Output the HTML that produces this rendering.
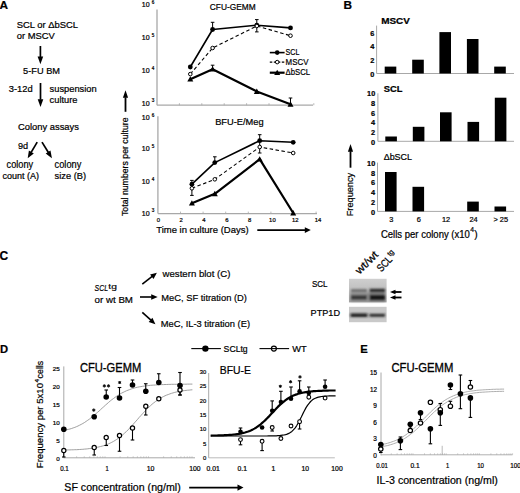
<!DOCTYPE html>
<html><head><meta charset="utf-8"><style>
html,body{margin:0;padding:0;background:#fff;}
svg{display:block;font-family:"Liberation Sans", sans-serif;}
text{stroke:#000;stroke-width:0.22px;}
</style></head><body>
<svg width="520" height="493" viewBox="0 0 520 493" font-family='"Liberation Sans", sans-serif' fill="#000">
<rect width="520" height="493" fill="#fff"/>
<text x="-0.4" y="8.5" font-size="11.8" font-weight="bold">A</text>
<text x="16.7" y="27.5" font-size="9.5" textLength="61.3" lengthAdjust="spacingAndGlyphs">SCL or ΔbSCL</text>
<text x="16.7" y="38.7" font-size="9.5" textLength="38.1" lengthAdjust="spacingAndGlyphs">or MSCV</text>
<line x1="40.4" y1="46" x2="40.4" y2="57.0" stroke="#000" stroke-width="1.7"/>
<polygon points="40.4,64.3 37.6,56.5 43.2,56.5" fill="#000"/>
<text x="23.1" y="74.2" font-size="9.5" textLength="36.9" lengthAdjust="spacingAndGlyphs">5-FU BM</text>
<text x="8.8" y="91.5" font-size="9.5" textLength="23.9" lengthAdjust="spacingAndGlyphs">3-12d</text>
<line x1="40.5" y1="83" x2="40.5" y2="99.7" stroke="#000" stroke-width="1.7"/>
<polygon points="40.5,107.0 37.7,99.2 43.3,99.2" fill="#000"/>
<text x="49.6" y="91.8" font-size="9.5" textLength="47.1" lengthAdjust="spacingAndGlyphs">suspension</text>
<text x="49.6" y="103.2" font-size="9.5" textLength="27.9" lengthAdjust="spacingAndGlyphs">culture</text>
<text x="18" y="129.5" font-size="9.5" textLength="60.9" lengthAdjust="spacingAndGlyphs">Colony assays</text>
<text x="18" y="148.8" font-size="9.5" textLength="10.2" lengthAdjust="spacingAndGlyphs">9d</text>
<line x1="37.2" y1="142.1" x2="31.104863232227142" y2="152.42965283801504" stroke="#000" stroke-width="1.7"/>
<polygon points="27.7,158.2 28.9,150.6 33.8,153.4" fill="#000"/>
<line x1="42" y1="142.1" x2="48.3905253135428" y2="152.4926724795999" stroke="#000" stroke-width="1.7"/>
<polygon points="51.9,158.2 45.7,153.5 50.5,150.6" fill="#000"/>
<text x="6.6" y="168.1" font-size="10.3" textLength="26.6" lengthAdjust="spacingAndGlyphs">colony</text>
<text x="2.4" y="178.5" font-size="9" textLength="36.5" lengthAdjust="spacingAndGlyphs">count (A)</text>
<text x="54.6" y="168.1" font-size="10.3" textLength="26.7" lengthAdjust="spacingAndGlyphs">colony</text>
<text x="54.6" y="178.5" font-size="9" textLength="31.4" lengthAdjust="spacingAndGlyphs">size (B)</text>
<text transform="translate(128.3,216) rotate(-90)" font-size="9" textLength="98.6" lengthAdjust="spacingAndGlyphs">Total numbers per culture</text>
<line x1="125.5" y1="111.8" x2="125.5" y2="97.3" stroke="#000" stroke-width="1.8"/>
<polygon points="125.5,90.3 128.1,97.8 122.9,97.8" fill="#000"/>
<line x1="157" y1="9.6" x2="157" y2="105.2" stroke="#a8a8a8" stroke-width="1.3"/>
<line x1="157" y1="105.2" x2="313" y2="105.2" stroke="#a8a8a8" stroke-width="1.3"/>
<line x1="179.4" y1="105.2" x2="179.4" y2="103.2" stroke="#a8a8a8" stroke-width="0.8"/>
<line x1="201.8" y1="105.2" x2="201.8" y2="103.2" stroke="#a8a8a8" stroke-width="0.8"/>
<line x1="224.2" y1="105.2" x2="224.2" y2="103.2" stroke="#a8a8a8" stroke-width="0.8"/>
<line x1="246.6" y1="105.2" x2="246.6" y2="103.2" stroke="#a8a8a8" stroke-width="0.8"/>
<line x1="269.0" y1="105.2" x2="269.0" y2="103.2" stroke="#a8a8a8" stroke-width="0.8"/>
<line x1="291.4" y1="105.2" x2="291.4" y2="103.2" stroke="#a8a8a8" stroke-width="0.8"/>
<line x1="313.79999999999995" y1="105.2" x2="313.79999999999995" y2="103.2" stroke="#a8a8a8" stroke-width="0.8"/>
<text x="141.8" y="7.2" font-size="6.6" textLength="7.8" lengthAdjust="spacingAndGlyphs">10</text>
<text x="151.70000000000002" y="4.0" font-size="4.6">6</text>
<text x="141.8" y="40.3" font-size="6.6" textLength="7.8" lengthAdjust="spacingAndGlyphs">10</text>
<text x="151.70000000000002" y="37.1" font-size="4.6">5</text>
<text x="141.8" y="73.3" font-size="6.6" textLength="7.8" lengthAdjust="spacingAndGlyphs">10</text>
<text x="151.70000000000002" y="70.1" font-size="4.6">4</text>
<text x="141.8" y="105.6" font-size="6.6" textLength="7.8" lengthAdjust="spacingAndGlyphs">10</text>
<text x="151.70000000000002" y="102.39999999999999" font-size="4.6">3</text>
<text x="209.8" y="10.3" font-size="9.1" textLength="45.8" lengthAdjust="spacingAndGlyphs">CFU-GEMM</text>
<line x1="212.6" y1="29.5" x2="212.6" y2="22.3" stroke="#000" stroke-width="1"/>
<line x1="210.79999999999998" y1="29.5" x2="214.4" y2="29.5" stroke="#000" stroke-width="1"/>
<line x1="210.79999999999998" y1="22.3" x2="214.4" y2="22.3" stroke="#000" stroke-width="1"/>
<line x1="256.8" y1="19.6" x2="256.8" y2="31.9" stroke="#000" stroke-width="1"/>
<line x1="255.0" y1="19.6" x2="258.6" y2="19.6" stroke="#000" stroke-width="1"/>
<line x1="255.0" y1="31.9" x2="258.6" y2="31.9" stroke="#000" stroke-width="1"/>
<line x1="290.5" y1="104.3" x2="290.5" y2="98" stroke="#000" stroke-width="1"/>
<line x1="288.7" y1="98" x2="292.3" y2="98" stroke="#000" stroke-width="1"/>
<line x1="212.6" y1="69.2" x2="212.6" y2="65.2" stroke="#000" stroke-width="1"/>
<line x1="210.79999999999998" y1="65.2" x2="214.4" y2="65.2" stroke="#000" stroke-width="1"/>
<polyline points="190.3,79.2 212.6,69.2 256.8,91.5 290.5,104.3" fill="none" stroke="#000" stroke-width="2.2" stroke-linejoin="round"/>
<polyline points="190.3,74.1 212.6,48.0 256.8,26.0 290.5,35.7" fill="none" stroke="#000" stroke-width="1.1" stroke-dasharray="3.5,2.5" stroke-linejoin="round"/>
<polyline points="190.3,67.0 212.6,29.5 256.8,25.2 290.5,27.9" fill="none" stroke="#000" stroke-width="1.6" stroke-linejoin="round"/>
<polygon points="190.3,76.2 187.3,81.6 193.3,81.6" fill="#000"/>
<polygon points="212.6,66.2 209.6,71.6 215.6,71.6" fill="#000"/>
<polygon points="256.8,88.5 253.8,93.9 259.8,93.9" fill="#000"/>
<polygon points="290.5,101.3 287.5,106.7 293.5,106.7" fill="#000"/>
<circle cx="190.3" cy="67.0" r="2.4" fill="#000" stroke="#000" stroke-width="0"/>
<circle cx="212.6" cy="29.5" r="2.4" fill="#000" stroke="#000" stroke-width="0"/>
<circle cx="256.8" cy="25.2" r="2.4" fill="#000" stroke="#000" stroke-width="0"/>
<circle cx="290.5" cy="27.9" r="2.4" fill="#000" stroke="#000" stroke-width="0"/>
<circle cx="190.3" cy="74.1" r="1.8" fill="#fff" stroke="#000" stroke-width="1"/>
<circle cx="212.6" cy="48.0" r="1.8" fill="#fff" stroke="#000" stroke-width="1"/>
<circle cx="256.8" cy="26.0" r="1.8" fill="#fff" stroke="#000" stroke-width="1"/>
<circle cx="290.5" cy="35.7" r="1.8" fill="#fff" stroke="#000" stroke-width="1"/>
<polyline points="269.8,52.6 284.6,52.6" fill="none" stroke="#000" stroke-width="1.6" stroke-linejoin="round"/>
<circle cx="277.2" cy="52.6" r="2.3" fill="#000" stroke="#000" stroke-width="0"/>
<text x="285.6" y="55.2" font-size="9.2" textLength="13.8" lengthAdjust="spacingAndGlyphs">SCL</text>
<polyline points="269.8,62.1 284.6,62.1" fill="none" stroke="#000" stroke-width="1.1" stroke-dasharray="2.5,1.5" stroke-linejoin="round"/>
<circle cx="277.2" cy="62.1" r="1.8" fill="#fff" stroke="#000" stroke-width="1"/>
<text x="285.6" y="64.9" font-size="9.2" textLength="22.8" lengthAdjust="spacingAndGlyphs">MSCV</text>
<polyline points="269.8,72.7 284.6,72.7" fill="none" stroke="#000" stroke-width="2.2" stroke-linejoin="round"/>
<polygon points="277.2,69.7 274.2,75.1 280.2,75.1" fill="#000"/>
<text x="285.6" y="74.7" font-size="9.2" textLength="24.4" lengthAdjust="spacingAndGlyphs">ΔbSCL</text>
<line x1="157.9" y1="116.3" x2="157.9" y2="213.6" stroke="#a8a8a8" stroke-width="1.3"/>
<line x1="157.9" y1="213.6" x2="317" y2="213.6" stroke="#a8a8a8" stroke-width="1.3"/>
<line x1="180.5" y1="213.6" x2="180.5" y2="211.6" stroke="#a8a8a8" stroke-width="0.8"/>
<line x1="203.10000000000002" y1="213.6" x2="203.10000000000002" y2="211.6" stroke="#a8a8a8" stroke-width="0.8"/>
<line x1="225.70000000000002" y1="213.6" x2="225.70000000000002" y2="211.6" stroke="#a8a8a8" stroke-width="0.8"/>
<line x1="248.3" y1="213.6" x2="248.3" y2="211.6" stroke="#a8a8a8" stroke-width="0.8"/>
<line x1="270.9" y1="213.6" x2="270.9" y2="211.6" stroke="#a8a8a8" stroke-width="0.8"/>
<line x1="293.5" y1="213.6" x2="293.5" y2="211.6" stroke="#a8a8a8" stroke-width="0.8"/>
<line x1="316.1" y1="213.6" x2="316.1" y2="211.6" stroke="#a8a8a8" stroke-width="0.8"/>
<text x="141.8" y="119.8" font-size="6.6" textLength="7.8" lengthAdjust="spacingAndGlyphs">10</text>
<text x="151.70000000000002" y="116.6" font-size="4.6">6</text>
<text x="141.8" y="150.8" font-size="6.6" textLength="7.8" lengthAdjust="spacingAndGlyphs">10</text>
<text x="151.70000000000002" y="147.6" font-size="4.6">5</text>
<text x="141.8" y="183.9" font-size="6.6" textLength="7.8" lengthAdjust="spacingAndGlyphs">10</text>
<text x="151.70000000000002" y="180.7" font-size="4.6">4</text>
<text x="141.8" y="215.60000000000002" font-size="6.6" textLength="7.8" lengthAdjust="spacingAndGlyphs">10</text>
<text x="151.70000000000002" y="212.4" font-size="4.6">3</text>
<text x="158.4" y="221.8" font-size="5.9" text-anchor="middle">0</text>
<text x="181.20000000000002" y="221.8" font-size="5.9" text-anchor="middle">2</text>
<text x="204.0" y="221.8" font-size="5.9" text-anchor="middle">4</text>
<text x="226.8" y="221.8" font-size="5.9" text-anchor="middle">6</text>
<text x="249.60000000000002" y="221.8" font-size="5.9" text-anchor="middle">8</text>
<text x="272.4" y="221.8" font-size="5.9" text-anchor="middle">10</text>
<text x="295.20000000000005" y="221.8" font-size="5.9" text-anchor="middle">12</text>
<text x="318.0" y="221.8" font-size="5.9" text-anchor="middle">14</text>
<text x="215.2" y="124.5" font-size="9.3" textLength="48.4" lengthAdjust="spacingAndGlyphs">BFU-E/Meg</text>
<line x1="191.9" y1="180.4" x2="191.9" y2="195.4" stroke="#000" stroke-width="1"/>
<line x1="190.1" y1="180.4" x2="193.70000000000002" y2="180.4" stroke="#000" stroke-width="1"/>
<line x1="190.1" y1="195.4" x2="193.70000000000002" y2="195.4" stroke="#000" stroke-width="1"/>
<line x1="214.8" y1="162.6" x2="214.8" y2="156.8" stroke="#000" stroke-width="1"/>
<line x1="213.0" y1="156.8" x2="216.60000000000002" y2="156.8" stroke="#000" stroke-width="1"/>
<line x1="259.7" y1="134.7" x2="259.7" y2="153" stroke="#000" stroke-width="1"/>
<line x1="257.9" y1="134.7" x2="261.5" y2="134.7" stroke="#000" stroke-width="1"/>
<line x1="257.9" y1="153" x2="261.5" y2="153" stroke="#000" stroke-width="1"/>
<polyline points="191.9,203.2 214.8,193.8 259.7,159.2 293.2,213.0" fill="none" stroke="#000" stroke-width="2.2" stroke-linejoin="round"/>
<polyline points="191.9,188.3 214.8,179.3 259.7,147.0 293.2,153.0" fill="none" stroke="#000" stroke-width="1.1" stroke-dasharray="3.5,2.5" stroke-linejoin="round"/>
<polyline points="191.9,184.2 214.8,162.6 259.7,140.7 293.2,142.3" fill="none" stroke="#000" stroke-width="1.6" stroke-linejoin="round"/>
<polygon points="191.9,200.2 188.9,205.6 194.9,205.6" fill="#000"/>
<polygon points="214.8,190.8 211.8,196.2 217.8,196.2" fill="#000"/>
<polygon points="259.7,156.2 256.7,161.6 262.7,161.6" fill="#000"/>
<polygon points="293.2,210.0 290.2,215.4 296.2,215.4" fill="#000"/>
<circle cx="191.9" cy="188.3" r="1.8" fill="#fff" stroke="#000" stroke-width="1"/>
<circle cx="214.8" cy="179.3" r="1.8" fill="#fff" stroke="#000" stroke-width="1"/>
<circle cx="259.7" cy="147.0" r="1.8" fill="#fff" stroke="#000" stroke-width="1"/>
<circle cx="293.2" cy="153.0" r="1.8" fill="#fff" stroke="#000" stroke-width="1"/>
<circle cx="191.9" cy="184.2" r="2.4" fill="#000" stroke="#000" stroke-width="0"/>
<circle cx="214.8" cy="162.6" r="2.4" fill="#000" stroke="#000" stroke-width="0"/>
<circle cx="259.7" cy="140.7" r="2.4" fill="#000" stroke="#000" stroke-width="0"/>
<circle cx="293.2" cy="142.3" r="2.4" fill="#000" stroke="#000" stroke-width="0"/>
<text x="156.2" y="233.3" font-size="9.9" textLength="92.4" lengthAdjust="spacingAndGlyphs">Time in culture (Days)</text>
<line x1="257.3" y1="230.1" x2="305.3" y2="230.1" stroke="#000" stroke-width="1.8"/>
<polygon points="310.8,230.1 304.8,233.0 304.8,227.2" fill="#000"/>
<text x="343.6" y="8.7" font-size="11.8" font-weight="bold">B</text>
<line x1="376.6" y1="25.6" x2="376.6" y2="73.5" stroke="#a8a8a8" stroke-width="1"/>
<line x1="376.6" y1="73.5" x2="514" y2="73.5" stroke="#a8a8a8" stroke-width="1"/>
<text x="374.4" y="77.0" font-size="7.2" font-weight="bold" text-anchor="end" textLength="4.1" lengthAdjust="spacingAndGlyphs">0</text>
<text x="374.4" y="63.2" font-size="7.2" font-weight="bold" text-anchor="end" textLength="4.1" lengthAdjust="spacingAndGlyphs">2</text>
<text x="374.4" y="49.4" font-size="7.2" font-weight="bold" text-anchor="end" textLength="4.1" lengthAdjust="spacingAndGlyphs">4</text>
<text x="374.4" y="35.599999999999994" font-size="7.2" font-weight="bold" text-anchor="end" textLength="4.1" lengthAdjust="spacingAndGlyphs">6</text>
<rect x="384.7" y="66.6" width="11.6" height="6.9" fill="#000"/>
<rect x="412.2" y="59.7" width="11.6" height="13.8" fill="#000"/>
<rect x="439.4" y="32.1" width="11.6" height="41.4" fill="#000"/>
<rect x="466.9" y="39.0" width="11.6" height="34.5" fill="#000"/>
<rect x="494.2" y="66.6" width="11.6" height="6.9" fill="#000"/>
<text x="381.2" y="24.1" font-size="9.6" font-weight="bold" textLength="28.7" lengthAdjust="spacingAndGlyphs">MSCV</text>
<line x1="377.9" y1="93.3" x2="377.9" y2="141.3" stroke="#a8a8a8" stroke-width="1"/>
<line x1="377.9" y1="141.3" x2="514" y2="141.3" stroke="#a8a8a8" stroke-width="1"/>
<text x="375.2" y="144.8" font-size="7.2" font-weight="bold" text-anchor="end" textLength="4.1" lengthAdjust="spacingAndGlyphs">0</text>
<text x="375.2" y="135.12" font-size="7.2" font-weight="bold" text-anchor="end" textLength="4.1" lengthAdjust="spacingAndGlyphs">2</text>
<text x="375.2" y="125.44000000000001" font-size="7.2" font-weight="bold" text-anchor="end" textLength="4.1" lengthAdjust="spacingAndGlyphs">4</text>
<text x="375.2" y="115.76000000000002" font-size="7.2" font-weight="bold" text-anchor="end" textLength="4.1" lengthAdjust="spacingAndGlyphs">6</text>
<text x="375.2" y="106.08000000000001" font-size="7.2" font-weight="bold" text-anchor="end" textLength="4.1" lengthAdjust="spacingAndGlyphs">8</text>
<text x="375.2" y="96.4" font-size="7.2" font-weight="bold" text-anchor="end" textLength="8.1" lengthAdjust="spacingAndGlyphs">10</text>
<rect x="385.3" y="136.5" width="11.6" height="4.8" fill="#000"/>
<rect x="412.8" y="126.8" width="11.6" height="14.5" fill="#000"/>
<rect x="440.0" y="112.3" width="11.6" height="29.0" fill="#000"/>
<rect x="467.5" y="121.9" width="11.6" height="19.4" fill="#000"/>
<rect x="494.8" y="97.7" width="11.6" height="43.6" fill="#000"/>
<text x="383.8" y="91.9" font-size="9.6" font-weight="bold" textLength="18.7" lengthAdjust="spacingAndGlyphs">SCL</text>
<line x1="377.5" y1="162.6" x2="377.5" y2="211.4" stroke="#a8a8a8" stroke-width="1"/>
<line x1="377.5" y1="211.4" x2="514" y2="211.4" stroke="#a8a8a8" stroke-width="1"/>
<text x="375.2" y="214.9" font-size="7.2" font-weight="bold" text-anchor="end" textLength="4.1" lengthAdjust="spacingAndGlyphs">0</text>
<text x="375.2" y="205.06" font-size="7.2" font-weight="bold" text-anchor="end" textLength="4.1" lengthAdjust="spacingAndGlyphs">2</text>
<text x="375.2" y="195.22" font-size="7.2" font-weight="bold" text-anchor="end" textLength="4.1" lengthAdjust="spacingAndGlyphs">4</text>
<text x="375.2" y="185.38" font-size="7.2" font-weight="bold" text-anchor="end" textLength="4.1" lengthAdjust="spacingAndGlyphs">6</text>
<text x="375.2" y="175.54000000000002" font-size="7.2" font-weight="bold" text-anchor="end" textLength="4.1" lengthAdjust="spacingAndGlyphs">8</text>
<text x="375.2" y="165.7" font-size="7.2" font-weight="bold" text-anchor="end" textLength="8.1" lengthAdjust="spacingAndGlyphs">10</text>
<rect x="385.0" y="172.0" width="11.6" height="39.4" fill="#000"/>
<rect x="412.5" y="186.8" width="11.6" height="24.6" fill="#000"/>
<rect x="467.2" y="201.6" width="11.6" height="9.8" fill="#000"/>
<rect x="494.5" y="206.5" width="11.6" height="4.9" fill="#000"/>
<text x="383.7" y="159.9" font-size="9.3" textLength="28.3" lengthAdjust="spacingAndGlyphs">ΔbSCL</text>
<text x="391.3" y="222.4" font-size="7.4" text-anchor="middle">3</text>
<text x="418.8" y="222.4" font-size="7.4" text-anchor="middle">6</text>
<text x="446.0" y="222.4" font-size="7.4" text-anchor="middle">12</text>
<text x="473.5" y="222.4" font-size="7.4" text-anchor="middle">24</text>
<text x="500.8" y="222.4" font-size="7.4" text-anchor="middle">&gt; 25</text>
<text x="380.9" y="237.5" font-size="10.2" textLength="89" lengthAdjust="spacingAndGlyphs">Cells per colony (x10</text>
<text x="470.3" y="231.8" font-size="6.8">4</text>
<text x="474.3" y="237.5" font-size="10.2">)</text>
<text transform="translate(353.2,216.3) rotate(-90)" font-size="9.4" textLength="43.5" lengthAdjust="spacingAndGlyphs">Frequency</text>
<line x1="350.5" y1="167.7" x2="350.5" y2="151.20000000000002" stroke="#000" stroke-width="1.8"/>
<polygon points="350.5,143.9 353.1,151.7 347.9,151.7" fill="#000"/>
<text x="-0.6" y="259.5" font-size="12" font-weight="bold">C</text>
<text x="94.6" y="290.5" font-size="9.6" font-style="italic" textLength="13.4" lengthAdjust="spacingAndGlyphs">SCL</text>
<text x="108.3" y="289.2" font-size="7.8" textLength="8.6" lengthAdjust="spacingAndGlyphs" style="stroke-width:0.15px">tg</text>
<text x="94.6" y="302.7" font-size="9.6" textLength="38.4" lengthAdjust="spacingAndGlyphs" style="stroke-width:0.2px">or wt BM</text>
<line x1="142.3" y1="284.2" x2="152.1865744374946" y2="276.4126297238912" stroke="#000" stroke-width="1.6"/>
<polygon points="156.9,272.7 153.5,278.9 150.1,274.5" fill="#000"/>
<line x1="140" y1="297" x2="151.7" y2="297.0" stroke="#000" stroke-width="1.6"/>
<polygon points="157.7,297.0 151.2,299.8 151.2,294.2" fill="#000"/>
<line x1="142.3" y1="312.4" x2="150.9419276723139" y2="320.1843317964354" stroke="#000" stroke-width="1.6"/>
<polygon points="155.4,324.2 148.7,321.9 152.4,317.8" fill="#000"/>
<text x="162.6" y="277.3" font-size="9.9" textLength="67.8" lengthAdjust="spacingAndGlyphs" style="stroke-width:0.2px">western blot (C)</text>
<text x="161.3" y="300.5" font-size="9.9" textLength="85.6" lengthAdjust="spacingAndGlyphs" style="stroke-width:0.2px">MeC, SF titration (D)</text>
<text x="160.7" y="326.5" font-size="9.9" textLength="89.4" lengthAdjust="spacingAndGlyphs" style="stroke-width:0.2px">MeC, IL-3 titration (E)</text>
<text x="311.9" y="287" font-size="9.5" textLength="15.6" lengthAdjust="spacingAndGlyphs">SCL</text>
<text x="310.6" y="316.1" font-size="9.5" textLength="29.4" lengthAdjust="spacingAndGlyphs">PTP1D</text>
<text transform="translate(359.5,274.8) rotate(-45)" font-size="10.8" textLength="27.5" lengthAdjust="spacingAndGlyphs">wt/wt</text>
<text transform="translate(381.2,272.6) rotate(-47)" font-size="10.8" textLength="17" lengthAdjust="spacingAndGlyphs">SCL</text>
<text transform="translate(381.2,272.6) rotate(-47) translate(17.6,-4.2)" font-size="7.4" textLength="6.2" lengthAdjust="spacingAndGlyphs">tg</text>
<defs>
<linearGradient id="bg1" x1="0" x2="0" y1="0" y2="1"><stop offset="0" stop-color="#cfcfcf"/><stop offset="0.45" stop-color="#c0c0c0"/><stop offset="1" stop-color="#a0a0a0"/></linearGradient>
<filter id="bl" x="-20%" y="-80%" width="140%" height="260%"><feGaussianBlur stdDeviation="1.0"/></filter>
</defs>
<rect x="349" y="278.8" width="37.6" height="23.6" fill="url(#bg1)"/>
<g filter="url(#bl)">
<rect x="350.5" y="292.5" width="34.5" height="9" fill="#909090"/>
<rect x="351" y="289.2" width="16" height="2.8" fill="#6a6a6a"/>
<rect x="369.5" y="288.8" width="15.5" height="3.6" fill="#2a2a2a"/>
<rect x="351" y="295" width="16" height="4.8" fill="#3a3a3a"/>
<rect x="369.5" y="294.6" width="15.5" height="5.8" fill="#151515"/>
</g>
<rect x="349" y="306.8" width="37.6" height="15.4" fill="#c9c9c9"/>
<g filter="url(#bl)">
<rect x="350.5" y="313.5" width="17" height="3.4" fill="#151515"/>
<rect x="369.5" y="313.8" width="15.5" height="2.9" fill="#222"/>
</g>
<line x1="401.5" y1="292" x2="395.0" y2="292.0" stroke="#000" stroke-width="1.8"/>
<polygon points="390.0,292.0 395.5,289.7 395.5,294.3" fill="#000"/>
<line x1="401.5" y1="297.5" x2="395.0" y2="297.5" stroke="#000" stroke-width="1.8"/>
<polygon points="390.0,297.5 395.5,295.2 395.5,299.8" fill="#000"/>
<text x="0" y="352.6" font-size="11.2" font-weight="bold">D</text>
<text transform="translate(42.7,468.2) rotate(-90)" font-size="9.7" textLength="85.2" lengthAdjust="spacingAndGlyphs">Frequency per 5x10</text>
<text transform="translate(38.9,382.6) rotate(-90)" font-size="6.2">4</text>
<text transform="translate(42.7,378.4) rotate(-90)" font-size="9.7" textLength="17.6" lengthAdjust="spacingAndGlyphs">cells</text>
<line x1="63.8" y1="366.4" x2="63.8" y2="458.2" stroke="#a8a8a8" stroke-width="1"/>
<line x1="63.8" y1="457.8" x2="195" y2="457.8" stroke="#a8a8a8" stroke-width="1"/>
<text x="59.8" y="461.2" font-size="6" text-anchor="end" textLength="3.5" lengthAdjust="spacingAndGlyphs">0</text>
<text x="59.8" y="443.09999999999997" font-size="6" text-anchor="end" textLength="3.5" lengthAdjust="spacingAndGlyphs">5</text>
<text x="59.8" y="425.0" font-size="6" text-anchor="end" textLength="7" lengthAdjust="spacingAndGlyphs">10</text>
<text x="59.8" y="406.9" font-size="6" text-anchor="end" textLength="7" lengthAdjust="spacingAndGlyphs">15</text>
<text x="59.8" y="388.8" font-size="6" text-anchor="end" textLength="7" lengthAdjust="spacingAndGlyphs">20</text>
<text x="59.8" y="370.7" font-size="6" text-anchor="end" textLength="7" lengthAdjust="spacingAndGlyphs">25</text>
<text x="64.5" y="471.3" font-size="6.9" text-anchor="middle" textLength="8.6" lengthAdjust="spacingAndGlyphs">0.1</text>
<text x="107" y="471.3" font-size="6.9" text-anchor="middle" textLength="3.2" lengthAdjust="spacingAndGlyphs">1</text>
<text x="150.6" y="471.3" font-size="6.9" text-anchor="middle" textLength="7.8" lengthAdjust="spacingAndGlyphs">10</text>
<text x="194.9" y="471.3" font-size="6.9" text-anchor="middle" textLength="11.4" lengthAdjust="spacingAndGlyphs">100</text>
<text x="79.9" y="372.3" font-size="11.9" textLength="61.4" lengthAdjust="spacingAndGlyphs" style="stroke-width:0.3px">CFU-GEMM</text>
<polyline points="63.5,430.5 65.1,430.2 66.7,429.8 68.3,429.4 69.9,429.0 71.6,428.5 73.2,427.9 74.8,427.4 76.4,426.7 78.0,426.0 79.6,425.2 81.2,424.4 82.8,423.5 84.5,422.5 86.1,421.4 87.7,420.3 89.3,419.2 90.9,417.9 92.5,416.6 94.1,415.3 95.7,413.9 97.3,412.5 99.0,411.1 100.6,409.6 102.2,408.1 103.8,406.7 105.4,405.2 107.0,403.8 108.6,402.4 110.2,401.0 111.8,399.7 113.5,398.5 115.1,397.3 116.7,396.2 118.3,395.1 119.9,394.1 121.5,393.2 123.1,392.4 124.7,391.6 126.4,390.8 128.0,390.2 129.6,389.6 131.2,389.0 132.8,388.5 134.4,388.0 136.0,387.6 137.6,387.2 139.2,386.9 140.9,386.6 142.5,386.3 144.1,386.1 145.7,385.9 147.3,385.7 148.9,385.5 150.5,385.3 152.1,385.2 153.7,385.1 155.4,385.0 157.0,384.9 158.6,384.8 160.2,384.7 161.8,384.6 163.4,384.6 165.0,384.5 166.6,384.5 168.3,384.4 169.9,384.4 171.5,384.3 173.1,384.3 174.7,384.3 176.3,384.3 177.9,384.2 179.5,384.2 181.1,384.2 182.8,384.2 184.4,384.2 186.0,384.2 187.6,384.1 189.2,384.1 190.8,384.1 192.4,384.1" fill="none" stroke="#888" stroke-width="0.8" stroke-linejoin="round"/>
<polyline points="63.5,450.1 65.1,450.0 66.7,450.0 68.3,449.9 69.9,449.9 71.6,449.8 73.2,449.8 74.8,449.7 76.4,449.7 78.0,449.6 79.6,449.5 81.2,449.4 82.8,449.3 84.5,449.1 86.1,449.0 87.7,448.8 89.3,448.6 90.9,448.4 92.5,448.2 94.1,447.9 95.7,447.6 97.3,447.3 99.0,446.9 100.6,446.5 102.2,446.1 103.8,445.6 105.4,445.1 107.0,444.5 108.6,443.8 110.2,443.1 111.8,442.3 113.5,441.4 115.1,440.4 116.7,439.4 118.3,438.3 119.9,437.1 121.5,435.8 123.1,434.5 124.7,433.0 126.4,431.5 128.0,429.9 129.6,428.2 131.2,426.5 132.8,424.7 134.4,422.9 136.0,421.1 137.6,419.3 139.2,417.4 140.9,415.6 142.5,413.8 144.1,412.1 145.7,410.4 147.3,408.7 148.9,407.2 150.5,405.7 152.1,404.2 153.7,402.9 155.4,401.6 157.0,400.5 158.6,399.4 160.2,398.4 161.8,397.4 163.4,396.6 165.0,395.8 166.6,395.1 168.3,394.5 169.9,393.9 171.5,393.3 173.1,392.9 174.7,392.4 176.3,392.0 177.9,391.7 179.5,391.4 181.1,391.1 182.8,390.8 184.4,390.6 186.0,390.4 187.6,390.2 189.2,390.1 190.8,389.9 192.4,389.8" fill="none" stroke="#888" stroke-width="0.8" stroke-linejoin="round"/>
<line x1="106.25" y1="397" x2="106.25" y2="390" stroke="#000" stroke-width="1.1"/>
<line x1="104.45" y1="390" x2="108.05" y2="390" stroke="#000" stroke-width="1.1"/>
<line x1="119.5" y1="398" x2="119.5" y2="387.5" stroke="#000" stroke-width="1.1"/>
<line x1="117.7" y1="387.5" x2="121.3" y2="387.5" stroke="#000" stroke-width="1.1"/>
<line x1="132.5" y1="385" x2="132.5" y2="380" stroke="#000" stroke-width="1.1"/>
<line x1="130.7" y1="380" x2="134.3" y2="380" stroke="#000" stroke-width="1.1"/>
<line x1="145.75" y1="391.25" x2="145.75" y2="383.75" stroke="#000" stroke-width="1.1"/>
<line x1="143.95" y1="383.75" x2="147.55" y2="383.75" stroke="#000" stroke-width="1.1"/>
<line x1="158.75" y1="382.5" x2="158.75" y2="373.75" stroke="#000" stroke-width="1.1"/>
<line x1="156.95" y1="373.75" x2="160.55" y2="373.75" stroke="#000" stroke-width="1.1"/>
<line x1="180" y1="385.5" x2="180" y2="372.5" stroke="#000" stroke-width="1.1"/>
<line x1="178.2" y1="372.5" x2="181.8" y2="372.5" stroke="#000" stroke-width="1.1"/>
<line x1="63.75" y1="450.5" x2="63.75" y2="457" stroke="#000" stroke-width="1.1"/>
<line x1="61.95" y1="457" x2="65.55" y2="457" stroke="#000" stroke-width="1.1"/>
<line x1="94.25" y1="447.5" x2="94.25" y2="455" stroke="#000" stroke-width="1.1"/>
<line x1="92.45" y1="455" x2="96.05" y2="455" stroke="#000" stroke-width="1.1"/>
<line x1="106.25" y1="437.5" x2="106.25" y2="445.5" stroke="#000" stroke-width="1.1"/>
<line x1="104.45" y1="445.5" x2="108.05" y2="445.5" stroke="#000" stroke-width="1.1"/>
<line x1="119.5" y1="435.5" x2="119.5" y2="451.25" stroke="#000" stroke-width="1.1"/>
<line x1="117.7" y1="451.25" x2="121.3" y2="451.25" stroke="#000" stroke-width="1.1"/>
<line x1="132.5" y1="428" x2="132.5" y2="440" stroke="#000" stroke-width="1.1"/>
<line x1="130.7" y1="440" x2="134.3" y2="440" stroke="#000" stroke-width="1.1"/>
<line x1="145.75" y1="406.25" x2="145.75" y2="415" stroke="#000" stroke-width="1.1"/>
<line x1="143.95" y1="415" x2="147.55" y2="415" stroke="#000" stroke-width="1.1"/>
<line x1="180" y1="390" x2="180" y2="395" stroke="#000" stroke-width="1.1"/>
<line x1="178.2" y1="395" x2="181.8" y2="395" stroke="#000" stroke-width="1.1"/>
<line x1="180" y1="385.5" x2="180" y2="395" stroke="#000" stroke-width="1.1"/>
<line x1="178.2" y1="395" x2="181.8" y2="395" stroke="#000" stroke-width="1.1"/>
<circle cx="63.8" cy="429.2" r="2.8" fill="#000" stroke="#000" stroke-width="0"/>
<circle cx="94.2" cy="416.8" r="2.8" fill="#000" stroke="#000" stroke-width="0"/>
<circle cx="106.2" cy="397.0" r="2.8" fill="#000" stroke="#000" stroke-width="0"/>
<circle cx="119.5" cy="398.0" r="2.8" fill="#000" stroke="#000" stroke-width="0"/>
<circle cx="132.5" cy="385.0" r="2.8" fill="#000" stroke="#000" stroke-width="0"/>
<circle cx="145.8" cy="391.2" r="2.8" fill="#000" stroke="#000" stroke-width="0"/>
<circle cx="158.8" cy="382.5" r="2.8" fill="#000" stroke="#000" stroke-width="0"/>
<circle cx="180.0" cy="385.5" r="2.8" fill="#000" stroke="#000" stroke-width="0"/>
<circle cx="63.8" cy="450.5" r="2.1" fill="#fff" stroke="#000" stroke-width="1.2"/>
<circle cx="94.2" cy="447.5" r="2.1" fill="#fff" stroke="#000" stroke-width="1.2"/>
<circle cx="106.2" cy="437.5" r="2.1" fill="#fff" stroke="#000" stroke-width="1.2"/>
<circle cx="119.5" cy="435.5" r="2.1" fill="#fff" stroke="#000" stroke-width="1.2"/>
<circle cx="132.5" cy="428.0" r="2.1" fill="#fff" stroke="#000" stroke-width="1.2"/>
<circle cx="145.8" cy="406.2" r="2.1" fill="#fff" stroke="#000" stroke-width="1.2"/>
<circle cx="158.8" cy="398.8" r="2.1" fill="#fff" stroke="#000" stroke-width="1.2"/>
<circle cx="180.0" cy="390.0" r="2.1" fill="#fff" stroke="#000" stroke-width="1.2"/>
<polygon points="93.80,408.60 94.21,409.39 95.10,409.35 94.62,410.10 95.10,410.85 94.21,410.81 93.80,411.60 93.39,410.81 92.50,410.85 92.97,410.10 92.50,409.35 93.39,409.39" fill="#000" stroke="#000" stroke-width="0.6"/>
<polygon points="104.30,384.40 104.71,385.19 105.60,385.15 105.12,385.90 105.60,386.65 104.71,386.61 104.30,387.40 103.89,386.61 103.00,386.65 103.47,385.90 103.00,385.15 103.89,385.19" fill="#000" stroke="#000" stroke-width="0.6"/>
<polygon points="108.50,384.40 108.91,385.19 109.80,385.15 109.33,385.90 109.80,386.65 108.91,386.61 108.50,387.40 108.09,386.61 107.20,386.65 107.67,385.90 107.20,385.15 108.09,385.19" fill="#000" stroke="#000" stroke-width="0.6"/>
<polygon points="119.70,381.00 120.11,381.79 121.00,381.75 120.53,382.50 121.00,383.25 120.11,383.21 119.70,384.00 119.29,383.21 118.40,383.25 118.88,382.50 118.40,381.75 119.29,381.79" fill="#000" stroke="#000" stroke-width="0.6"/>
<line x1="191.3" y1="348.6" x2="220.9" y2="348.6" stroke="#000" stroke-width="1.1"/>
<circle cx="205.4" cy="348.6" r="3.2" fill="#000" stroke="#000" stroke-width="0"/>
<text x="223.6" y="351.8" font-size="9.4" textLength="24.1" lengthAdjust="spacingAndGlyphs">SCLtg</text>
<circle cx="273.9" cy="348.6" r="2.5" fill="#fff" stroke="#000" stroke-width="1.2"/>
<line x1="259.5" y1="348.6" x2="289.1" y2="348.6" stroke="#000" stroke-width="1.1"/>
<text x="292.3" y="351.8" font-size="9.4" textLength="14.4" lengthAdjust="spacingAndGlyphs">WT</text>
<line x1="208.7" y1="373" x2="208.7" y2="457.8" stroke="#a8a8a8" stroke-width="1"/>
<line x1="208.7" y1="457.8" x2="334.8" y2="457.8" stroke="#a8a8a8" stroke-width="0.8"/>
<text x="206.2" y="460.0" font-size="6" text-anchor="end" textLength="3.3" lengthAdjust="spacingAndGlyphs">0</text>
<text x="206.2" y="445.65" font-size="6" text-anchor="end" textLength="3.3" lengthAdjust="spacingAndGlyphs">5</text>
<text x="206.2" y="431.3" font-size="6" text-anchor="end" textLength="6.5" lengthAdjust="spacingAndGlyphs">10</text>
<text x="206.2" y="416.95" font-size="6" text-anchor="end" textLength="6.5" lengthAdjust="spacingAndGlyphs">15</text>
<text x="206.2" y="402.59999999999997" font-size="6" text-anchor="end" textLength="6.5" lengthAdjust="spacingAndGlyphs">20</text>
<text x="206.2" y="388.25" font-size="6" text-anchor="end" textLength="6.5" lengthAdjust="spacingAndGlyphs">25</text>
<text x="206.2" y="373.9" font-size="6" text-anchor="end" textLength="6.5" lengthAdjust="spacingAndGlyphs">30</text>
<text x="213.2" y="471" font-size="6.8" text-anchor="middle">0.01</text>
<text x="242.3" y="471" font-size="6.8" text-anchor="middle">0.1</text>
<text x="273.3" y="471" font-size="6.8" text-anchor="middle">1</text>
<text x="305.3" y="471" font-size="6.8" text-anchor="middle">10</text>
<text x="337" y="471" font-size="6.8" text-anchor="middle">100</text>
<text x="219.8" y="374.4" font-size="10.6" textLength="31.2" lengthAdjust="spacingAndGlyphs">BFU-E</text>
<polyline points="210.7,435.6 212.3,435.5 213.8,435.5 215.4,435.5 216.9,435.5 218.5,435.4 220.1,435.4 221.6,435.3 223.2,435.3 224.8,435.2 226.3,435.1 227.9,435.0 229.4,434.9 231.0,434.8 232.6,434.7 234.1,434.5 235.7,434.3 237.2,434.1 238.8,433.9 240.4,433.6 241.9,433.3 243.5,432.9 245.0,432.5 246.6,432.0 248.2,431.5 249.7,430.9 251.3,430.2 252.9,429.4 254.4,428.6 256.0,427.7 257.5,426.6 259.1,425.5 260.7,424.3 262.2,422.9 263.8,421.5 265.3,420.1 266.9,418.5 268.5,416.9 270.0,415.2 271.6,413.5 273.2,411.9 274.7,410.2 276.3,408.5 277.8,406.9 279.4,405.4 281.0,404.0 282.5,402.6 284.1,401.3 285.6,400.1 287.2,399.0 288.8,398.0 290.3,397.1 291.9,396.3 293.4,395.6 295.0,394.9 296.6,394.4 298.1,393.8 299.7,393.4 301.3,393.0 302.8,392.7 304.4,392.3 305.9,392.1 307.5,391.9 309.1,391.7 310.6,391.5 312.2,391.3 313.7,391.2 315.3,391.1 316.9,391.0 318.4,390.9 320.0,390.8 321.5,390.8 323.1,390.7 324.7,390.7 326.2,390.6 327.8,390.6 329.4,390.5 330.9,390.5 332.5,390.5 334.0,390.5 335.6,390.5" fill="none" stroke="#000" stroke-width="2.2" stroke-linejoin="round"/>
<polyline points="210.7,436.0 212.3,436.0 213.8,436.0 215.4,436.0 216.9,436.0 218.5,436.0 220.1,436.0 221.6,436.0 223.2,436.0 224.8,436.0 226.3,436.0 227.9,436.0 229.4,436.0 231.0,436.0 232.6,436.0 234.1,436.0 235.7,436.0 237.2,436.0 238.8,436.0 240.4,436.0 241.9,436.0 243.5,436.0 245.0,436.0 246.6,436.0 248.2,436.0 249.7,436.0 251.3,436.0 252.9,436.0 254.4,436.0 256.0,436.0 257.5,436.0 259.1,436.0 260.7,436.0 262.2,436.0 263.8,436.0 265.3,436.0 266.9,436.0 268.5,435.9 270.0,435.9 271.6,435.9 273.2,435.9 274.7,435.8 276.3,435.8 277.8,435.7 279.4,435.6 281.0,435.4 282.5,435.2 284.1,435.0 285.6,434.6 287.2,434.1 288.8,433.4 290.3,432.5 291.9,431.4 293.4,429.9 295.0,428.1 296.6,425.8 298.1,423.2 299.7,420.3 301.3,417.1 302.8,413.9 304.4,410.8 305.9,407.9 307.5,405.4 309.1,403.3 310.6,401.5 312.2,400.1 313.7,399.0 315.3,398.2 316.9,397.6 318.4,397.1 320.0,396.8 321.5,396.5 323.1,396.3 324.7,396.2 326.2,396.1 327.8,396.0 329.4,395.9 330.9,395.9 332.5,395.9 334.0,395.9 335.6,395.8" fill="none" stroke="#000" stroke-width="1.2" stroke-linejoin="round"/>
<line x1="240.5" y1="431.8" x2="240.5" y2="428" stroke="#000" stroke-width="1.1"/>
<line x1="238.7" y1="428" x2="242.3" y2="428" stroke="#000" stroke-width="1.1"/>
<line x1="272.2" y1="410.8" x2="272.2" y2="400.9" stroke="#000" stroke-width="1.1"/>
<line x1="270.4" y1="400.9" x2="274.0" y2="400.9" stroke="#000" stroke-width="1.1"/>
<line x1="280.9" y1="402.1" x2="280.9" y2="391.3" stroke="#000" stroke-width="1.1"/>
<line x1="279.09999999999997" y1="391.3" x2="282.7" y2="391.3" stroke="#000" stroke-width="1.1"/>
<line x1="291" y1="398.7" x2="291" y2="387" stroke="#000" stroke-width="1.1"/>
<line x1="289.2" y1="387" x2="292.8" y2="387" stroke="#000" stroke-width="1.1"/>
<line x1="299.6" y1="391.4" x2="299.6" y2="380.8" stroke="#000" stroke-width="1.1"/>
<line x1="297.8" y1="380.8" x2="301.40000000000003" y2="380.8" stroke="#000" stroke-width="1.1"/>
<line x1="308.8" y1="392.9" x2="308.8" y2="387" stroke="#000" stroke-width="1.1"/>
<line x1="307.0" y1="387" x2="310.6" y2="387" stroke="#000" stroke-width="1.1"/>
<line x1="325.1" y1="386.7" x2="325.1" y2="380" stroke="#000" stroke-width="1.1"/>
<line x1="323.3" y1="380" x2="326.90000000000003" y2="380" stroke="#000" stroke-width="1.1"/>
<line x1="240.5" y1="439.6" x2="240.5" y2="444.8" stroke="#000" stroke-width="1.1"/>
<line x1="238.7" y1="444.8" x2="242.3" y2="444.8" stroke="#000" stroke-width="1.1"/>
<line x1="262.1" y1="441.3" x2="262.1" y2="450.6" stroke="#000" stroke-width="1.1"/>
<line x1="260.3" y1="450.6" x2="263.90000000000003" y2="450.6" stroke="#000" stroke-width="1.1"/>
<line x1="272.2" y1="427.5" x2="272.2" y2="431" stroke="#000" stroke-width="1.1"/>
<line x1="270.4" y1="431" x2="274.0" y2="431" stroke="#000" stroke-width="1.1"/>
<line x1="299.6" y1="421.7" x2="299.6" y2="429" stroke="#000" stroke-width="1.1"/>
<line x1="297.8" y1="429" x2="301.40000000000003" y2="429" stroke="#000" stroke-width="1.1"/>
<circle cx="240.5" cy="431.8" r="2.3" fill="#000" stroke="#000" stroke-width="0"/>
<circle cx="262.1" cy="427.5" r="2.3" fill="#000" stroke="#000" stroke-width="0"/>
<circle cx="272.2" cy="410.8" r="2.3" fill="#000" stroke="#000" stroke-width="0"/>
<circle cx="280.9" cy="402.1" r="2.3" fill="#000" stroke="#000" stroke-width="0"/>
<circle cx="291.0" cy="398.7" r="2.3" fill="#000" stroke="#000" stroke-width="0"/>
<circle cx="299.6" cy="391.4" r="2.3" fill="#000" stroke="#000" stroke-width="0"/>
<circle cx="308.8" cy="392.9" r="2.3" fill="#000" stroke="#000" stroke-width="0"/>
<circle cx="325.1" cy="386.7" r="2.3" fill="#000" stroke="#000" stroke-width="0"/>
<circle cx="240.5" cy="439.6" r="1.9" fill="#fff" stroke="#000" stroke-width="1.1"/>
<circle cx="262.1" cy="441.3" r="1.9" fill="#fff" stroke="#000" stroke-width="1.1"/>
<circle cx="272.2" cy="427.5" r="1.9" fill="#fff" stroke="#000" stroke-width="1.1"/>
<circle cx="280.9" cy="438.5" r="1.9" fill="#fff" stroke="#000" stroke-width="1.1"/>
<circle cx="291.0" cy="426.0" r="1.9" fill="#fff" stroke="#000" stroke-width="1.1"/>
<circle cx="299.6" cy="421.7" r="1.9" fill="#fff" stroke="#000" stroke-width="1.1"/>
<circle cx="308.8" cy="397.2" r="1.9" fill="#fff" stroke="#000" stroke-width="1.1"/>
<circle cx="325.1" cy="398.1" r="1.9" fill="#fff" stroke="#000" stroke-width="1.1"/>
<polygon points="280.30,384.80 280.71,385.59 281.60,385.55 281.12,386.30 281.60,387.05 280.71,387.01 280.30,387.80 279.89,387.01 279.00,387.05 279.48,386.30 279.00,385.55 279.89,385.59" fill="#000" stroke="#000" stroke-width="0.6"/>
<polygon points="290.60,380.30 291.01,381.09 291.90,381.05 291.43,381.80 291.90,382.55 291.01,382.51 290.60,383.30 290.19,382.51 289.30,382.55 289.78,381.80 289.30,381.05 290.19,381.09" fill="#000" stroke="#000" stroke-width="0.6"/>
<polygon points="300.00,375.40 300.41,376.19 301.30,376.15 300.82,376.90 301.30,377.65 300.41,377.61 300.00,378.40 299.59,377.61 298.70,377.65 299.18,376.90 298.70,376.15 299.59,376.19" fill="#000" stroke="#000" stroke-width="0.6"/>
<text x="64.3" y="490.7" font-size="11.3" textLength="116.4" lengthAdjust="spacingAndGlyphs">SF concentration (ng/ml)</text>
<line x1="189.2" y1="487.6" x2="238.0" y2="487.6" stroke="#000" stroke-width="1.9"/>
<polygon points="243.5,487.6 237.5,490.8 237.5,484.4" fill="#000"/>
<text x="360.2" y="352.8" font-size="11.3" font-weight="bold">E</text>
<text x="391.4" y="371.6" font-size="11.9" textLength="62" lengthAdjust="spacingAndGlyphs" style="stroke-width:0.3px">CFU-GEMM</text>
<line x1="381" y1="372.5" x2="381" y2="455.4" stroke="#a8a8a8" stroke-width="1"/>
<line x1="381" y1="454.8" x2="512.5" y2="454.8" stroke="#a8a8a8" stroke-width="0.9"/>
<line x1="442.2" y1="445.8" x2="442.2" y2="454.8" stroke="#a8a8a8" stroke-width="0.8"/>
<text x="376.9" y="457.9" font-size="6.8" text-anchor="end" textLength="3.6" lengthAdjust="spacingAndGlyphs">0</text>
<text x="376.9" y="441.4" font-size="6.8" text-anchor="end" textLength="3.6" lengthAdjust="spacingAndGlyphs">3</text>
<text x="376.9" y="424.9" font-size="6.8" text-anchor="end" textLength="3.6" lengthAdjust="spacingAndGlyphs">6</text>
<text x="376.9" y="408.4" font-size="6.8" text-anchor="end" textLength="3.6" lengthAdjust="spacingAndGlyphs">9</text>
<text x="376.9" y="391.9" font-size="6.8" text-anchor="end" textLength="7.0" lengthAdjust="spacingAndGlyphs">12</text>
<text x="376.9" y="375.4" font-size="6.8" text-anchor="end" textLength="7.0" lengthAdjust="spacingAndGlyphs">15</text>
<text x="382.1" y="467.5" font-size="6.9" text-anchor="middle" textLength="11.6" lengthAdjust="spacingAndGlyphs">0.01</text>
<text x="415" y="467.5" font-size="6.9" text-anchor="middle" textLength="9.2" lengthAdjust="spacingAndGlyphs">0.1</text>
<text x="447.5" y="467.5" font-size="6.9" text-anchor="middle" textLength="3.2" lengthAdjust="spacingAndGlyphs">1</text>
<text x="480.6" y="467.5" font-size="6.9" text-anchor="middle" textLength="6.8" lengthAdjust="spacingAndGlyphs">10</text>
<text x="515.5" y="467.5" font-size="6.9" text-anchor="middle" textLength="10.5" lengthAdjust="spacingAndGlyphs">100</text>
<line x1="391.29419585604415" y1="454.8" x2="391.29419585604415" y2="453.3" stroke="#a8a8a8" stroke-width="0.6"/>
<line x1="397.1404256566928" y1="454.8" x2="397.1404256566928" y2="453.3" stroke="#a8a8a8" stroke-width="0.6"/>
<line x1="401.28839171208836" y1="454.8" x2="401.28839171208836" y2="453.3" stroke="#a8a8a8" stroke-width="0.6"/>
<line x1="404.5058041439558" y1="454.8" x2="404.5058041439558" y2="453.3" stroke="#a8a8a8" stroke-width="0.6"/>
<line x1="407.13462151273694" y1="454.8" x2="407.13462151273694" y2="453.3" stroke="#a8a8a8" stroke-width="0.6"/>
<line x1="409.3572549284733" y1="454.8" x2="409.3572549284733" y2="453.3" stroke="#a8a8a8" stroke-width="0.6"/>
<line x1="411.2825875681325" y1="454.8" x2="411.2825875681325" y2="453.3" stroke="#a8a8a8" stroke-width="0.6"/>
<line x1="412.9808513133856" y1="454.8" x2="412.9808513133856" y2="453.3" stroke="#a8a8a8" stroke-width="0.6"/>
<line x1="424.49419585604414" y1="454.8" x2="424.49419585604414" y2="453.3" stroke="#a8a8a8" stroke-width="0.6"/>
<line x1="430.3404256566928" y1="454.8" x2="430.3404256566928" y2="453.3" stroke="#a8a8a8" stroke-width="0.6"/>
<line x1="434.48839171208834" y1="454.8" x2="434.48839171208834" y2="453.3" stroke="#a8a8a8" stroke-width="0.6"/>
<line x1="437.7058041439558" y1="454.8" x2="437.7058041439558" y2="453.3" stroke="#a8a8a8" stroke-width="0.6"/>
<line x1="440.334621512737" y1="454.8" x2="440.334621512737" y2="453.3" stroke="#a8a8a8" stroke-width="0.6"/>
<line x1="442.5572549284733" y1="454.8" x2="442.5572549284733" y2="453.3" stroke="#a8a8a8" stroke-width="0.6"/>
<line x1="444.48258756813254" y1="454.8" x2="444.48258756813254" y2="453.3" stroke="#a8a8a8" stroke-width="0.6"/>
<line x1="446.1808513133856" y1="454.8" x2="446.1808513133856" y2="453.3" stroke="#a8a8a8" stroke-width="0.6"/>
<line x1="457.6941958560442" y1="454.8" x2="457.6941958560442" y2="453.3" stroke="#a8a8a8" stroke-width="0.6"/>
<line x1="463.5404256566928" y1="454.8" x2="463.5404256566928" y2="453.3" stroke="#a8a8a8" stroke-width="0.6"/>
<line x1="467.68839171208833" y1="454.8" x2="467.68839171208833" y2="453.3" stroke="#a8a8a8" stroke-width="0.6"/>
<line x1="470.90580414395583" y1="454.8" x2="470.90580414395583" y2="453.3" stroke="#a8a8a8" stroke-width="0.6"/>
<line x1="473.534621512737" y1="454.8" x2="473.534621512737" y2="453.3" stroke="#a8a8a8" stroke-width="0.6"/>
<line x1="475.75725492847334" y1="454.8" x2="475.75725492847334" y2="453.3" stroke="#a8a8a8" stroke-width="0.6"/>
<line x1="477.68258756813253" y1="454.8" x2="477.68258756813253" y2="453.3" stroke="#a8a8a8" stroke-width="0.6"/>
<line x1="479.38085131338556" y1="454.8" x2="479.38085131338556" y2="453.3" stroke="#a8a8a8" stroke-width="0.6"/>
<line x1="490.8941958560442" y1="454.8" x2="490.8941958560442" y2="453.3" stroke="#a8a8a8" stroke-width="0.6"/>
<line x1="496.74042565669276" y1="454.8" x2="496.74042565669276" y2="453.3" stroke="#a8a8a8" stroke-width="0.6"/>
<line x1="500.8883917120884" y1="454.8" x2="500.8883917120884" y2="453.3" stroke="#a8a8a8" stroke-width="0.6"/>
<line x1="504.1058041439558" y1="454.8" x2="504.1058041439558" y2="453.3" stroke="#a8a8a8" stroke-width="0.6"/>
<line x1="506.73462151273696" y1="454.8" x2="506.73462151273696" y2="453.3" stroke="#a8a8a8" stroke-width="0.6"/>
<line x1="508.95725492847333" y1="454.8" x2="508.95725492847333" y2="453.3" stroke="#a8a8a8" stroke-width="0.6"/>
<line x1="510.8825875681325" y1="454.8" x2="510.8825875681325" y2="453.3" stroke="#a8a8a8" stroke-width="0.6"/>
<line x1="512.5808513133856" y1="454.8" x2="512.5808513133856" y2="453.3" stroke="#a8a8a8" stroke-width="0.6"/>
<line x1="76.59480481138318" y1="457.8" x2="76.59480481138318" y2="456.3" stroke="#a8a8a8" stroke-width="0.6"/>
<line x1="120.09480481138318" y1="457.8" x2="120.09480481138318" y2="456.3" stroke="#a8a8a8" stroke-width="0.6"/>
<line x1="163.5948048113832" y1="457.8" x2="163.5948048113832" y2="456.3" stroke="#a8a8a8" stroke-width="0.6"/>
<line x1="84.25477458030532" y1="457.8" x2="84.25477458030532" y2="456.3" stroke="#a8a8a8" stroke-width="0.6"/>
<line x1="127.75477458030531" y1="457.8" x2="127.75477458030531" y2="456.3" stroke="#a8a8a8" stroke-width="0.6"/>
<line x1="171.2547745803053" y1="457.8" x2="171.2547745803053" y2="456.3" stroke="#a8a8a8" stroke-width="0.6"/>
<line x1="89.68960962276637" y1="457.8" x2="89.68960962276637" y2="456.3" stroke="#a8a8a8" stroke-width="0.6"/>
<line x1="133.18960962276637" y1="457.8" x2="133.18960962276637" y2="456.3" stroke="#a8a8a8" stroke-width="0.6"/>
<line x1="176.68960962276637" y1="457.8" x2="176.68960962276637" y2="456.3" stroke="#a8a8a8" stroke-width="0.6"/>
<line x1="93.90519518861682" y1="457.8" x2="93.90519518861682" y2="456.3" stroke="#a8a8a8" stroke-width="0.6"/>
<line x1="137.40519518861683" y1="457.8" x2="137.40519518861683" y2="456.3" stroke="#a8a8a8" stroke-width="0.6"/>
<line x1="180.9051951886168" y1="457.8" x2="180.9051951886168" y2="456.3" stroke="#a8a8a8" stroke-width="0.6"/>
<line x1="97.34957939168851" y1="457.8" x2="97.34957939168851" y2="456.3" stroke="#a8a8a8" stroke-width="0.6"/>
<line x1="140.8495793916885" y1="457.8" x2="140.8495793916885" y2="456.3" stroke="#a8a8a8" stroke-width="0.6"/>
<line x1="184.3495793916885" y1="457.8" x2="184.3495793916885" y2="456.3" stroke="#a8a8a8" stroke-width="0.6"/>
<line x1="100.26176474062018" y1="457.8" x2="100.26176474062018" y2="456.3" stroke="#a8a8a8" stroke-width="0.6"/>
<line x1="143.76176474062018" y1="457.8" x2="143.76176474062018" y2="456.3" stroke="#a8a8a8" stroke-width="0.6"/>
<line x1="187.26176474062018" y1="457.8" x2="187.26176474062018" y2="456.3" stroke="#a8a8a8" stroke-width="0.6"/>
<line x1="102.78441443414955" y1="457.8" x2="102.78441443414955" y2="456.3" stroke="#a8a8a8" stroke-width="0.6"/>
<line x1="146.28441443414954" y1="457.8" x2="146.28441443414954" y2="456.3" stroke="#a8a8a8" stroke-width="0.6"/>
<line x1="189.78441443414954" y1="457.8" x2="189.78441443414954" y2="456.3" stroke="#a8a8a8" stroke-width="0.6"/>
<line x1="105.00954916061063" y1="457.8" x2="105.00954916061063" y2="456.3" stroke="#a8a8a8" stroke-width="0.6"/>
<line x1="148.50954916061062" y1="457.8" x2="148.50954916061062" y2="456.3" stroke="#a8a8a8" stroke-width="0.6"/>
<line x1="192.00954916061062" y1="457.8" x2="192.00954916061062" y2="456.3" stroke="#a8a8a8" stroke-width="0.6"/>
<polyline points="381.3,444.6 382.8,444.3 384.4,444.0 385.9,443.7 387.4,443.3 389.0,442.8 390.5,442.4 392.0,441.8 393.6,441.3 395.1,440.7 396.7,440.0 398.2,439.3 399.7,438.5 401.3,437.7 402.8,436.8 404.3,435.8 405.9,434.8 407.4,433.7 408.9,432.6 410.5,431.4 412.0,430.1 413.5,428.8 415.1,427.4 416.6,426.0 418.1,424.5 419.7,423.0 421.2,421.5 422.7,419.9 424.3,418.4 425.8,416.8 427.4,415.2 428.9,413.7 430.4,412.2 432.0,410.7 433.5,409.3 435.0,407.9 436.6,406.5 438.1,405.3 439.6,404.0 441.2,402.9 442.7,401.8 444.2,400.7 445.8,399.7 447.3,398.8 448.8,398.0 450.4,397.2 451.9,396.5 453.4,395.8 455.0,395.2 456.5,394.6 458.1,394.1 459.6,393.6 461.1,393.1 462.7,392.7 464.2,392.4 465.7,392.0 467.3,391.7 468.8,391.4 470.3,391.2 471.9,391.0 473.4,390.8 474.9,390.6 476.5,390.4 478.0,390.2 479.5,390.1 481.1,390.0 482.6,389.9 484.1,389.8 485.7,389.7 487.2,389.6 488.8,389.5 490.3,389.5 491.8,389.4 493.4,389.3 494.9,389.3 496.4,389.2 498.0,389.2 499.5,389.2 501.0,389.1 502.6,389.1 504.1,389.1" fill="none" stroke="#999" stroke-width="0.8" stroke-linejoin="round"/>
<polyline points="381.3,446.8 382.8,446.5 384.4,446.2 385.9,445.9 387.4,445.6 389.0,445.2 390.5,444.7 392.0,444.3 393.6,443.7 395.1,443.2 396.7,442.6 398.2,441.9 399.7,441.2 401.3,440.4 402.8,439.6 404.3,438.7 405.9,437.7 407.4,436.7 408.9,435.6 410.5,434.4 412.0,433.2 413.5,432.0 415.1,430.6 416.6,429.3 418.1,427.8 419.7,426.4 421.2,424.9 422.7,423.3 424.3,421.8 425.8,420.3 427.4,418.7 428.9,417.2 430.4,415.6 432.0,414.1 433.5,412.7 435.0,411.2 436.6,409.9 438.1,408.5 439.6,407.3 441.2,406.0 442.7,404.9 444.2,403.8 445.8,402.8 447.3,401.8 448.8,400.9 450.4,400.1 451.9,399.3 453.4,398.6 455.0,397.9 456.5,397.3 458.1,396.7 459.6,396.2 461.1,395.7 462.7,395.3 464.2,394.9 465.7,394.5 467.3,394.2 468.8,393.9 470.3,393.6 471.9,393.4 473.4,393.1 474.9,392.9 476.5,392.7 478.0,392.6 479.5,392.4 481.1,392.3 482.6,392.2 484.1,392.1 485.7,392.0 487.2,391.9 488.8,391.8 490.3,391.7 491.8,391.6 493.4,391.6 494.9,391.5 496.4,391.5 498.0,391.4 499.5,391.4 501.0,391.4 502.6,391.3 504.1,391.3" fill="none" stroke="#999" stroke-width="0.8" stroke-linejoin="round"/>
<line x1="400.4" y1="437" x2="400.4" y2="449.6" stroke="#000" stroke-width="1.1"/>
<line x1="398.59999999999997" y1="437" x2="402.2" y2="437" stroke="#000" stroke-width="1.1"/>
<line x1="398.59999999999997" y1="449.6" x2="402.2" y2="449.6" stroke="#000" stroke-width="1.1"/>
<line x1="430.4" y1="428.8" x2="430.4" y2="443.8" stroke="#000" stroke-width="1.1"/>
<line x1="428.59999999999997" y1="443.8" x2="432.2" y2="443.8" stroke="#000" stroke-width="1.1"/>
<line x1="440.3" y1="403.5" x2="440.3" y2="425.4" stroke="#000" stroke-width="1.1"/>
<line x1="438.5" y1="403.5" x2="442.1" y2="403.5" stroke="#000" stroke-width="1.1"/>
<line x1="438.5" y1="425.4" x2="442.1" y2="425.4" stroke="#000" stroke-width="1.1"/>
<line x1="460.4" y1="375" x2="460.4" y2="408.7" stroke="#000" stroke-width="1.1"/>
<line x1="458.59999999999997" y1="375" x2="462.2" y2="375" stroke="#000" stroke-width="1.1"/>
<line x1="458.59999999999997" y1="408.7" x2="462.2" y2="408.7" stroke="#000" stroke-width="1.1"/>
<line x1="470.4" y1="397.9" x2="470.4" y2="417.4" stroke="#000" stroke-width="1.1"/>
<line x1="468.59999999999997" y1="417.4" x2="472.2" y2="417.4" stroke="#000" stroke-width="1.1"/>
<line x1="470.4" y1="387" x2="470.4" y2="380.5" stroke="#000" stroke-width="1.1"/>
<line x1="468.59999999999997" y1="380.5" x2="472.2" y2="380.5" stroke="#000" stroke-width="1.1"/>
<line x1="410.3" y1="424.2" x2="410.3" y2="428.2" stroke="#000" stroke-width="1.1"/>
<line x1="408.5" y1="428.2" x2="412.1" y2="428.2" stroke="#000" stroke-width="1.1"/>
<line x1="420.5" y1="412.7" x2="420.5" y2="419.5" stroke="#000" stroke-width="1.1"/>
<line x1="418.7" y1="419.5" x2="422.3" y2="419.5" stroke="#000" stroke-width="1.1"/>
<line x1="450.4" y1="385" x2="450.4" y2="389.5" stroke="#000" stroke-width="1.1"/>
<line x1="448.59999999999997" y1="389.5" x2="452.2" y2="389.5" stroke="#000" stroke-width="1.1"/>
<line x1="450.4" y1="406.2" x2="450.4" y2="401.3" stroke="#000" stroke-width="1.1"/>
<line x1="448.59999999999997" y1="401.3" x2="452.2" y2="401.3" stroke="#000" stroke-width="1.1"/>
<line x1="380.8" y1="449" x2="380.8" y2="452.5" stroke="#000" stroke-width="1.1"/>
<line x1="379.0" y1="452.5" x2="382.6" y2="452.5" stroke="#000" stroke-width="1.1"/>
<circle cx="380.8" cy="449.0" r="2.2" fill="#fff" stroke="#000" stroke-width="1.2"/>
<circle cx="410.3" cy="430.5" r="2.2" fill="#fff" stroke="#000" stroke-width="1.2"/>
<circle cx="420.5" cy="423.0" r="2.2" fill="#fff" stroke="#000" stroke-width="1.2"/>
<circle cx="430.4" cy="402.3" r="2.2" fill="#fff" stroke="#000" stroke-width="1.2"/>
<circle cx="440.3" cy="409.7" r="2.2" fill="#fff" stroke="#000" stroke-width="1.2"/>
<circle cx="450.4" cy="406.2" r="2.2" fill="#fff" stroke="#000" stroke-width="1.2"/>
<circle cx="470.4" cy="387.0" r="2.2" fill="#fff" stroke="#000" stroke-width="1.2"/>
<circle cx="380.8" cy="444.5" r="2.8" fill="#000" stroke="#000" stroke-width="0"/>
<circle cx="400.4" cy="440.8" r="2.8" fill="#000" stroke="#000" stroke-width="0"/>
<circle cx="410.3" cy="424.2" r="2.8" fill="#000" stroke="#000" stroke-width="0"/>
<circle cx="420.5" cy="412.7" r="2.8" fill="#000" stroke="#000" stroke-width="0"/>
<circle cx="430.4" cy="428.8" r="2.8" fill="#000" stroke="#000" stroke-width="0"/>
<circle cx="440.3" cy="412.7" r="2.8" fill="#000" stroke="#000" stroke-width="0"/>
<circle cx="450.4" cy="385.0" r="2.8" fill="#000" stroke="#000" stroke-width="0"/>
<circle cx="460.4" cy="393.7" r="2.8" fill="#000" stroke="#000" stroke-width="0"/>
<circle cx="470.4" cy="397.9" r="2.8" fill="#000" stroke="#000" stroke-width="0"/>
<text x="376.6" y="484.2" font-size="10.6" textLength="121.2" lengthAdjust="spacingAndGlyphs">IL-3 concentration (ng/ml)</text>
</svg>
</body></html>
